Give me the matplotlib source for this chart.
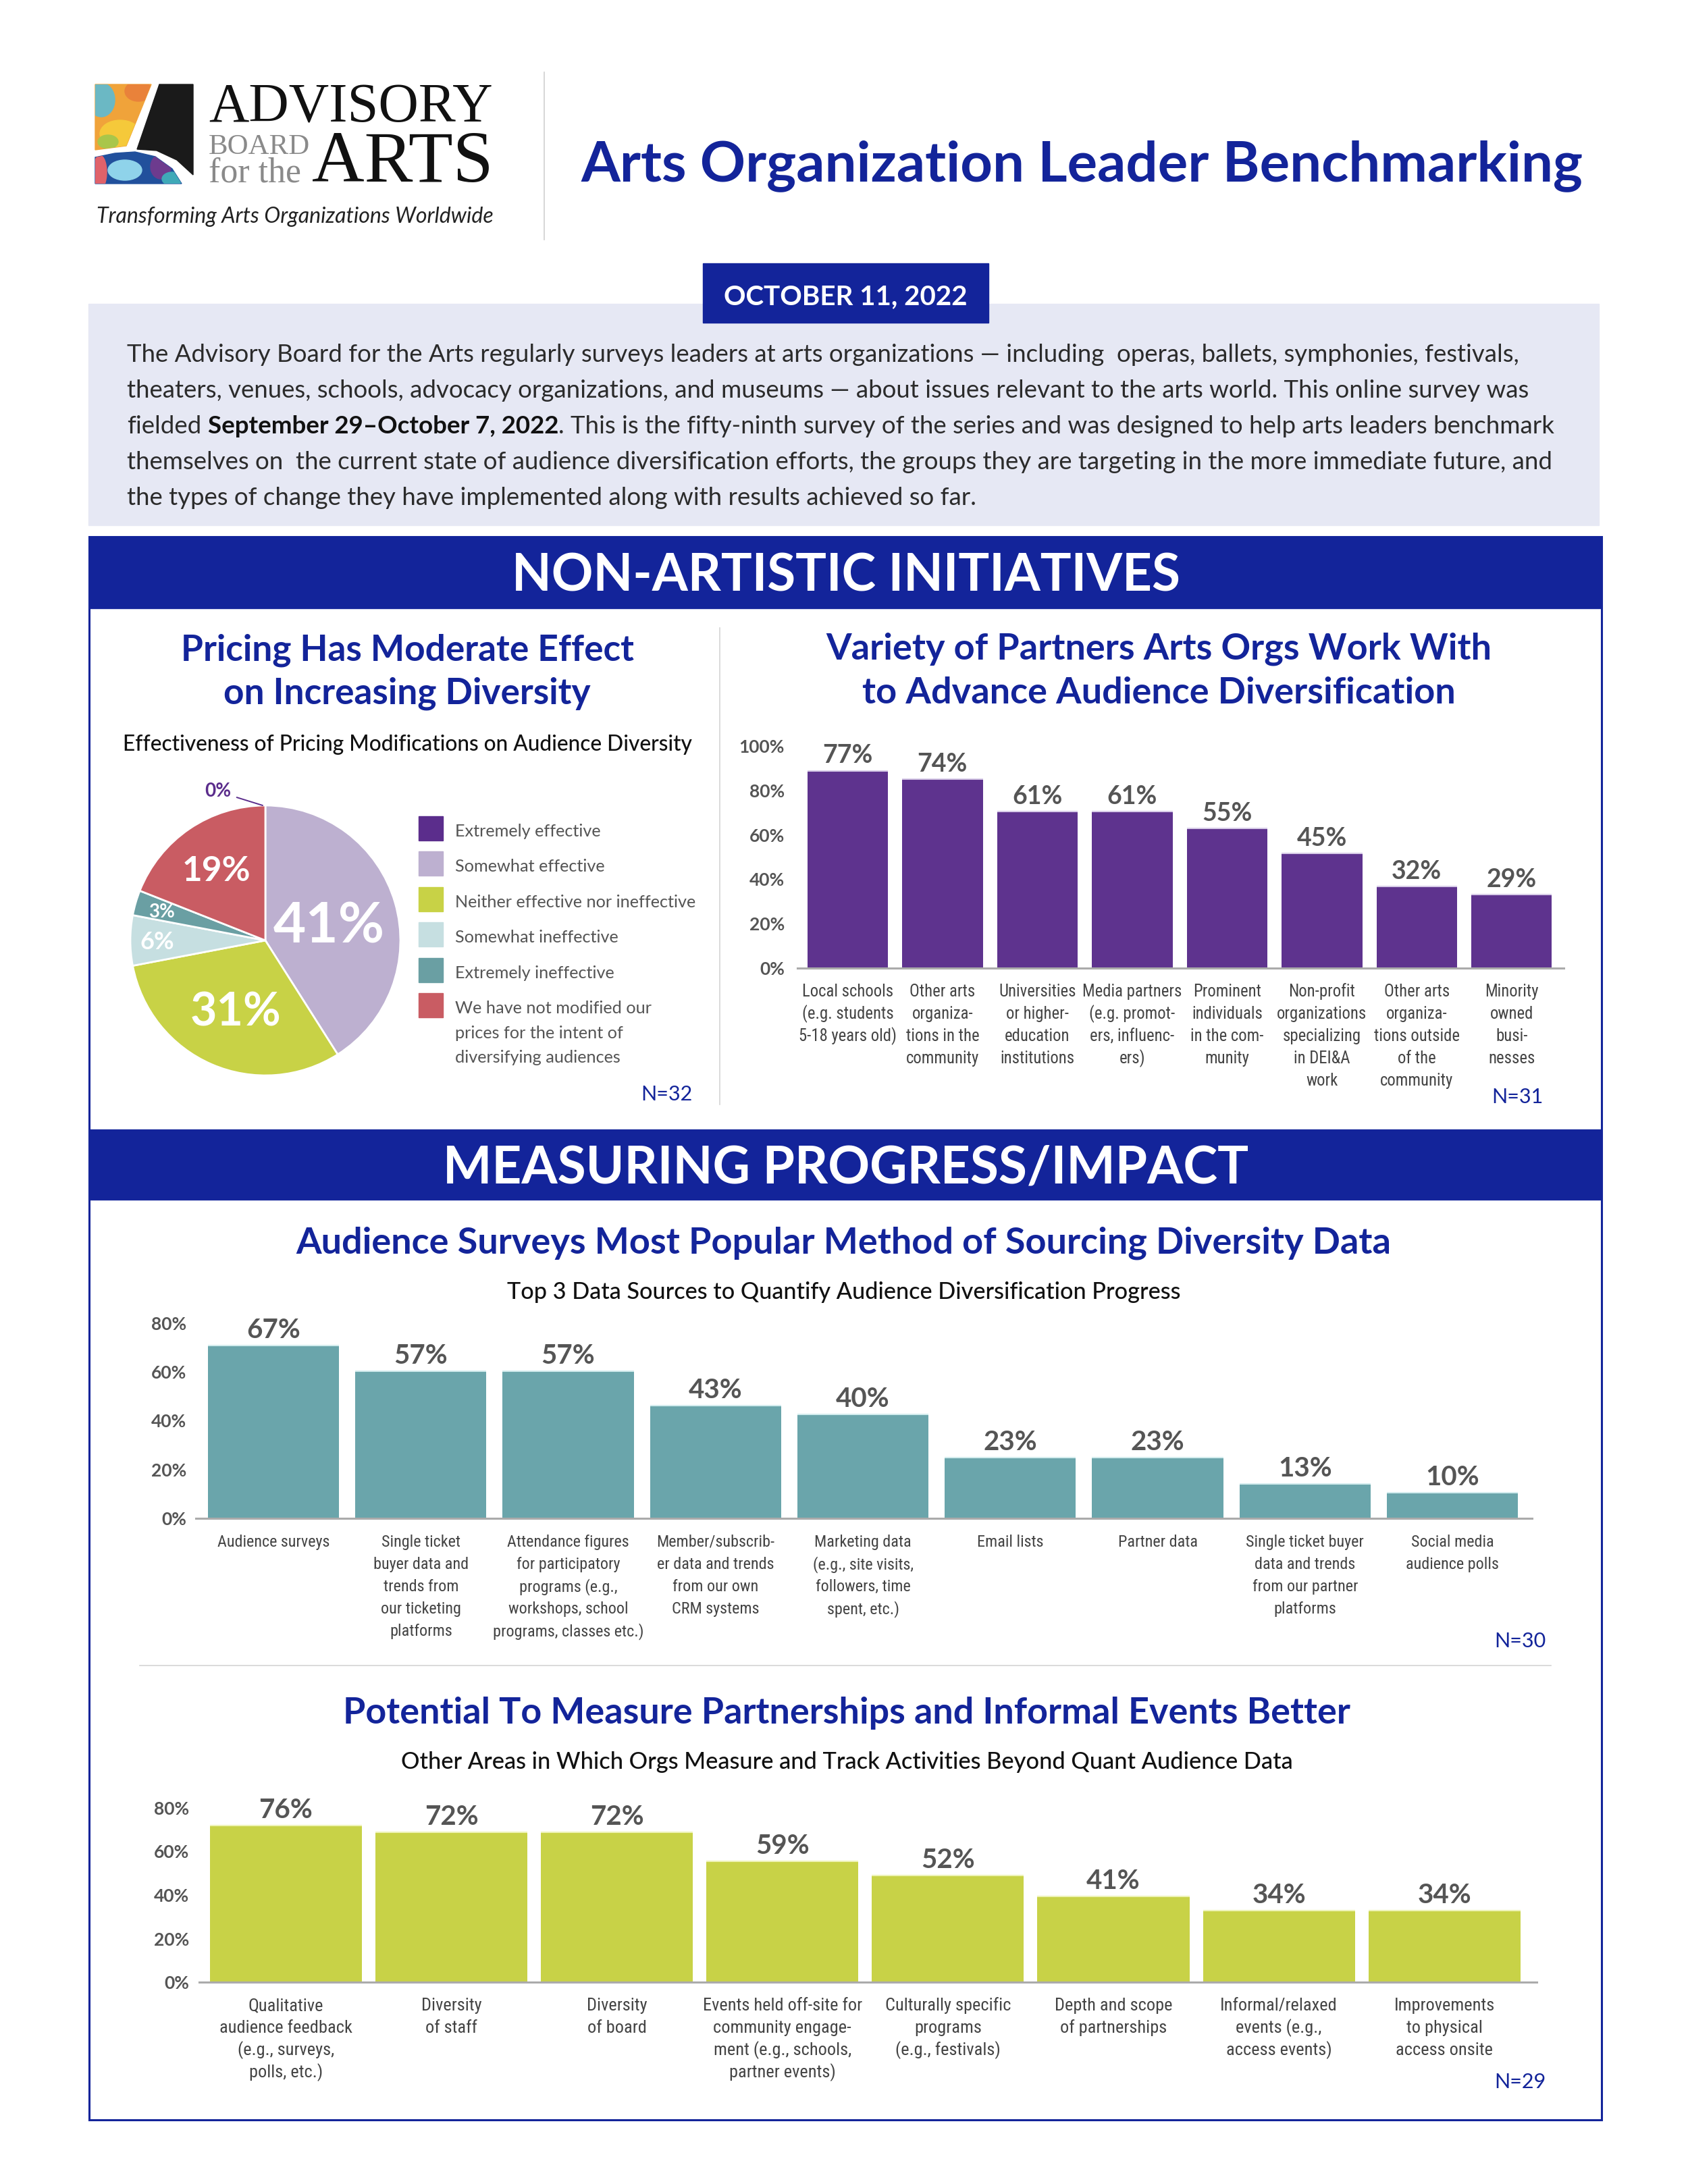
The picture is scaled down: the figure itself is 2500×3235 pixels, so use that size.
import matplotlib
matplotlib.use('Agg')
import matplotlib.pyplot as plt
from matplotlib.patches import Rectangle, Polygon, Ellipse
from matplotlib.transforms import blended_transform_factory
from matplotlib import font_manager as fm
import numpy as np

# ---------------- DATA ----------------
pie_labels = ["Extremely effective", "Somewhat effective", "Neither effective nor ineffective",
              "Somewhat ineffective", "Extremely ineffective",
              "We have not modified our\nprices for the intent of\ndiversifying audiences"]
pie_values = [0, 41, 31, 6, 3, 19]
pie_texts = ["0%", "41%", "31%", "6%", "3%", "19%"]

partner_cats = ["Local schools\n(e.g. students\n5-18 years old)",
                "Other arts\norganiza-\ntions in the\ncommunity",
                "Universities\nor higher-\neducation\ninstitutions",
                "Media partners\n(e.g. promot-\ners, influenc-\ners)",
                "Prominent\nindividuals\nin the com-\nmunity",
                "Non-profit\norganizations\nspecializing\nin DEI&A\nwork",
                "Other arts\norganiza-\ntions outside\nof the\ncommunity",
                "Minority\nowned\nbusi-\nnesses"]
partner_labels = ["77%", "74%", "61%", "61%", "55%", "45%", "32%", "29%"]
partner_heights = [88.9, 85.1, 70.4, 70.4, 62.8, 51.6, 36.7, 33.2]   # bar tops as read on the axis
partner_ticks = [0, 20, 40, 60, 80, 100]

source_cats = ["Audience surveys",
               "Single ticket\nbuyer data and\ntrends from\nour ticketing\nplatforms",
               "Attendance figures\nfor participatory\nprograms (e.g.,\nworkshops, school\nprograms, classes etc.)",
               "Member/subscrib-\ner data and trends\nfrom our own\nCRM systems",
               "Marketing data\n(e.g., site visits,\nfollowers, time\nspent, etc.)",
               "Email lists", "Partner data",
               "Single ticket buyer\ndata and trends\nfrom our partner\nplatforms",
               "Social media\naudience polls"]
source_labels = ["67%", "57%", "57%", "43%", "40%", "23%", "23%", "13%", "10%"]
source_heights = [70.9, 60.4, 60.4, 46.1, 42.5, 24.8, 24.8, 14.1, 10.5]
source_ticks = [0, 20, 40, 60, 80]

area_cats = ["Qualitative\naudience feedback\n(e.g., surveys,\npolls, etc.)",
             "Diversity\nof staff", "Diversity\nof board",
             "Events held off-site for\ncommunity engage-\nment (e.g., schools,\npartner events)",
             "Culturally specific\nprograms\n(e.g., festivals)",
             "Depth and scope\nof partnerships",
             "Informal/relaxed\nevents (e.g.,\naccess events)",
             "Improvements\nto physical\naccess onsite"]
area_labels = ["76%", "72%", "72%", "59%", "52%", "41%", "34%", "34%"]
area_heights = [71.8, 68.7, 68.7, 55.5, 49.1, 39.3, 32.8, 32.8]
area_ticks = [0, 20, 40, 60, 80]

paragraph = [
    "The Advisory Board for the Arts regularly surveys leaders at arts organizations \u2014 including  operas, ballets, symphonies, festivals,",
    "theaters, venues, schools, advocacy organizations, and museums \u2014 about issues relevant to the arts world. This online survey was",
    ("fielded ", "September 29\u2013October 7, 2022", ". This is the fifty-ninth survey of the series and was designed to help arts leaders benchmark"),
    "themselves on  the current state of audience diversification efforts, the groups they are targeting in the more immediate future, and",
    "the types of change they have implemented along with results achieved so far.",
]

# ---------------- STYLE ----------------
NAVY = '#13249a'
GRAY = '#555555'
CAT = '#444444'
DARK = '#2b2b2b'
pie_colors = ['#5b2d8c', '#bdb0d0', '#c8d246', '#c6dfe1', '#6a9fa3', '#c95c63']

names = {f.name for f in fm.fontManager.ttflist}


def _w(f):
    w = f.weight
    if isinstance(w, str):
        w = fm.weight_dict.get(w, 400)
    return w


def has_weights(name):
    ws = [_w(f) for f in fm.fontManager.ttflist if f.name == name and f.style == 'normal']
    return any(w >= 700 for w in ws) and any(w <= 450 for w in ws)


geo = 'Lato'
for cand in ['Jost', 'League Spartan', 'Outfit', 'Kumbh Sans', 'Urbanist']:
    if cand in names and has_weights(cand):
        geo = cand
        break
SANS = [geo, 'Lato', 'DejaVu Sans']
SERIF = ['Liberation Serif', 'DejaVu Serif']
NARROW = [n for n in ['Roboto Condensed', 'Liberation Sans Narrow'] if n in names][:1] + ['Lato', 'DejaVu Sans']
ITAL = ['Lato', 'DejaVu Sans']

W, H = 2500, 3235
fig = plt.figure(figsize=(W / 100, H / 100), dpi=100)
pg = fig.add_axes([0, 0, 1, 1])
pg.set_xlim(0, W)
pg.set_ylim(H, 0)
pg.axis('off')
R = fig.canvas.get_renderer()


def width_of(s, size, family, weight='normal', style='normal'):
    t = pg.text(0, 0, s, fontsize=size, family=family, fontweight=weight, fontstyle=style)
    w = t.get_window_extent(R).width
    t.remove()
    return w


def fit(s, target, family=SANS, weight='normal', style='normal'):
    return 30 * target / width_of(s, 30, family, weight, style)


def T(x, y, s, size, ha='center', color=DARK, family=SANS, weight='normal', style='normal', va='baseline'):
    return pg.text(x, y, s, fontsize=size, ha=ha, va=va, color=color, family=family,
                   fontweight=weight, fontstyle=style)


# ---------------- HEADER / LOGO ----------------
top_poly = Polygon([(141, 125), (224, 125), (187, 216), (141, 222)], closed=True, color='#f0a33a')
pg.add_patch(top_poly)
for (cx, cy, w, h, c) in [(150, 148, 40, 50, '#6bb8c4'), (178, 198, 60, 40, '#f5c93a'),
                          (205, 135, 40, 30, '#e9823a'), (160, 210, 30, 20, '#a9c64a')]:
    e = Ellipse((cx, cy), w, h, color=c)
    pg.add_patch(e)
    e.set_clip_path(top_poly)
pg.add_patch(Polygon([(236, 125), (286, 125), (286, 259), (262, 237), (232, 223), (203, 221)],
                     closed=True, color='#1a1a1a'))
bot_poly = Polygon([(141, 233), (170, 227), (200, 225), (230, 232), (255, 250), (269, 272), (141, 272)],
                   closed=True, color='#21509c')
pg.add_patch(bot_poly)
for (cx, cy, w, h, c) in [(185, 252, 50, 30, '#8fd3ea'), (238, 247, 30, 36, '#6d3b8e'),
                          (148, 255, 20, 50, '#e0626a'), (255, 265, 30, 20, '#3fa9b8')]:
    e = Ellipse((cx, cy), w, h, color=c)
    pg.add_patch(e)
    e.set_clip_path(bot_poly)

T(309, 181, "ADVISORY", fit("ADVISORY", 421, SERIF), ha='left', color='#111111', family=SERIF)
T(309, 228, "BOARD", fit("BOARD", 150, SERIF), ha='left', color='#8a8a8a', family=SERIF)
T(309, 269, "for the", fit("for the", 137, SERIF), ha='left', color='#8a8a8a', family=SERIF)
T(462, 269, "ARTS", fit("ARTS", 268, SERIF), ha='left', color='#111111', family=SERIF)
T(143, 330, "Transforming Arts Organizations Worldwide",
  fit("Transforming Arts Organizations Worldwide", 587, ITAL, style='italic'),
  ha='left', color='#222222', family=ITAL, style='italic')
pg.plot([806, 806], [107, 355], color='#cfcfcf', lw=1.2)

T(1602, 268, "Arts Organization Leader Benchmarking",
  fit("Arts Organization Leader Benchmarking", 1483, SANS, 'bold'), color=NAVY, weight='bold')

# lavender box and date tag
pg.add_patch(Rectangle((131, 450), 2237, 328, color='#e6e8f4', zorder=0))
pg.add_patch(Rectangle((1041, 390), 423, 88, color=NAVY, zorder=1))
pg.text(1252, 451, "OCTOBER 11, 2022", fontsize=fit("OCTOBER 11, 2022", 360, SANS, 'bold'),
        ha='center', va='baseline', color='white', family=SANS, fontweight='bold', zorder=2)

# paragraph
p3 = paragraph[2]
base = 30
w_total = (width_of(p3[0].strip(), base, SANS) + width_of("a b", base, SANS) - width_of("ab", base, SANS)
           + width_of(p3[1], base, SANS, 'bold') + width_of(p3[2], base, SANS))
psize = base * 2109 / w_total
space = width_of("a b", psize, SANS) - width_of("ab", psize, SANS)
for i, line in enumerate(paragraph):
    y = 536 + 53 * i
    if isinstance(line, tuple):
        x = 188
        T(x, y, line[0].strip(), psize, ha='left')
        x += width_of(line[0].strip(), psize, SANS) + space
        T(x, y, line[1], psize, ha='left', weight='bold', color='#111111')
        x += width_of(line[1], psize, SANS, 'bold')
        T(x, y, line[2], psize, ha='left')
    else:
        T(188, y, line, psize, ha='left')

# ---------------- SECTION FRAMES ----------------
pg.add_patch(Rectangle((132, 795), 2240, 2345, fill=False, edgecolor=NAVY, lw=2.2))
pg.add_patch(Rectangle((132, 795), 2240, 106, color=NAVY))
pg.add_patch(Rectangle((132, 1673), 2240, 104, color=NAVY))
s1 = fit("NON-ARTISTIC INITIATIVES", 990, SANS, 'bold')
T(1253, 848 + 0.5 * s1, "NON-ARTISTIC INITIATIVES", s1, color='white', weight='bold')
s2 = fit("MEASURING PROGRESS/IMPACT", 1192, SANS, 'bold')
T(1253, 1725 + 0.5 * s2, "MEASURING PROGRESS/IMPACT", s2, color='white', weight='bold')

pg.plot([1066, 1066], [930, 1636], color='#d4d4d4', lw=1.2)
pg.plot([207, 2297], [2467, 2467], color='#d4d4d4', lw=1.2)

# ---------------- PIE PANEL ----------------
st = fit("Pricing Has Moderate Effect", 671, SANS, 'bold')
T(603, 979, "Pricing Has Moderate Effect", st, color=NAVY, weight='bold')
T(603, 1042, "on Increasing Diversity", st, color=NAVY, weight='bold')
sub = "Effectiveness of Pricing Modifications on Audience Diversity"
T(603, 1112, sub, fit(sub, 843, SANS, 'medium'), color='#111111', weight='medium')

pax = fig.add_axes([193 / W, 1 - 1593 / H, 400 / W, 400 / H])
wedges, _ = pax.pie(pie_values, colors=pie_colors, startangle=90, counterclock=False, radius=1,
                    wedgeprops=dict(edgecolor='white', linewidth=2))
pax.set_xlim(-1, 1)
pax.set_ylim(-1, 1)
pax.set_aspect('equal')
pax.axis('off')
dists = [None, 0.49, 0.55, 0.8, 0.8, 0.645]
sizes = [20, 60, 49, 26, 20, 37]
for k in range(1, len(wedges)):
    w = wedges[k]
    ang = np.deg2rad((w.theta1 + w.theta2) / 2)
    pax.text(dists[k] * np.cos(ang), dists[k] * np.sin(ang), pie_texts[k], ha='center',
             va='center_baseline', fontsize=sizes[k], color='white', fontweight='bold', family=SANS)
a0 = np.deg2rad(wedges[0].theta1)
pax.annotate(pie_texts[0], xy=(np.cos(a0) - 0.02, np.sin(a0)), xytext=(-0.35, 1.115),
             ha='center', va='center_baseline', fontsize=sizes[0], color=pie_colors[0], fontweight='bold',
             family=SANS, annotation_clip=False,
             arrowprops=dict(arrowstyle='-', color=pie_colors[0], lw=1.4, shrinkA=4, shrinkB=0))

ls = fit("Neither effective nor ineffective", 357, SANS)
for i, (lab, col) in enumerate(zip(pie_labels, pie_colors)):
    yc = 1227 + 52.4 * i
    pg.add_patch(Rectangle((620, yc - 18), 36, 36, color=col))
    for j, ln in enumerate(lab.split('\n')):
        T(674, yc + 12 + 36.5 * j, ln, ls, ha='left', color=GRAY)
T(1026, 1630, "N=32", 22, ha='right', color=NAVY)

# ---------------- BAR CHARTS ----------------
def bar_chart(left, right, top, bottom, xlim, ymax, ticks, heights, vals, cats, color, top_color,
              width, val_size, tick_pad_px, cat_ref, cat_ref_w):
    ax = fig.add_axes([left / W, 1 - bottom / H, (right - left) / W, (bottom - top) / H])
    x = np.arange(len(heights))
    ax.bar(x, heights, width=width, color=color, zorder=2, linewidth=0)
    ax.hlines(heights, x - width / 2, x + width / 2, colors=top_color, lw=1.5, zorder=3)
    ax.set_xlim(*xlim)
    ax.set_ylim(0, ymax)
    ax.set_yticks(ticks)
    ax.set_yticklabels([f"{t}%" for t in ticks])
    ax.tick_params(axis='y', length=0, pad=tick_pad_px * 0.72, labelsize=19, labelcolor=GRAY)
    for lab in ax.get_yticklabels():
        lab.set_fontfamily(SANS)
        lab.set_fontweight('bold')
    ax.set_xticks([])
    for s in ['top', 'right', 'left']:
        ax.spines[s].set_visible(False)
    ax.spines['bottom'].set_color('#ababab')
    ax.spines['bottom'].set_linewidth(2.2)
    ax.spines['bottom'].set_zorder(4)
    ax.patch.set_alpha(0)
    for xi, h, v in zip(x, heights, vals):
        ax.annotate(v, (xi, h), xytext=(0, 8), textcoords='offset points', ha='center', va='baseline',
                    fontsize=val_size, fontweight='bold', color=GRAY, family=SANS, annotation_clip=False)
    fs = 20 * cat_ref_w / width_of(cat_ref, 20, NARROW)
    tr = blended_transform_factory(ax.transData, pg.transData)
    for xi, c in zip(x, cats):
        for j, line in enumerate(c.split('\n')):
            ax.text(xi, bottom + 42 + 33 * j, line, transform=tr, ha='center', va='baseline',
                    fontsize=fs, color=CAT, family=NARROW, clip_on=False)
    return ax


t2a, t2b = "Variety of Partners Arts Orgs Work With", "to Advance Audience Diversification"
st2 = fit(t2a, 986, SANS, 'bold')
T(1716, 977, t2a, st2, color=NAVY, weight='bold')
T(1716, 1042, t2b, st2, color=NAVY, weight='bold')
bar_chart(1181, 2316, 1105, 1434, (-0.53, 7.55), 100, partner_ticks, partner_heights, partner_labels,
          partner_cats, '#5e338e', '#d8cde8', 0.85, 27, 19, "Media partners", 147)
T(2286, 1634, "N=31", 22, ha='right', color=NAVY)

t3 = "Audience Surveys Most Popular Method of Sourcing Diversity Data"
T(1249, 1857, t3, fit(t3, 1622, SANS, 'bold'), color=NAVY, weight='bold')
s3 = "Top 3 Data Sources to Quantify Audience Diversification Progress"
T(1250, 1924, s3, fit(s3, 996, SANS, 'medium'), color='#111111', weight='medium')
bar_chart(290, 2269, 1960, 2249, (-0.527, 8.54), 80, source_ticks, source_heights, source_labels,
          source_cats, '#6aa5ab', '#d3ecee', 0.89, 29, 14, "programs, classes etc.)", 223)
T(2290, 2440, "N=30", 22, ha='right', color=NAVY)

t4 = "Potential To Measure Partnerships and Informal Events Better"
T(1254, 2553, t4, fit(t4, 1488, SANS, 'bold'), color=NAVY, weight='bold')
s4 = "Other Areas in Which Orgs Measure and Track Activities Beyond Quant Audience Data"
T(1254, 2620, s4, fit(s4, 1318, SANS, 'medium'), color='#111111', weight='medium')
bar_chart(294.5, 2276, 2678, 2936, (-0.526, 7.558), 80, area_ticks, area_heights, area_labels,
          area_cats, '#c8d247', '#eef3b8', 0.918, 29, 14, "Events held off-site for", 236)
T(2290, 3093, "N=29", 22, ha='right', color=NAVY)

fig.savefig("out.png", dpi=100)
